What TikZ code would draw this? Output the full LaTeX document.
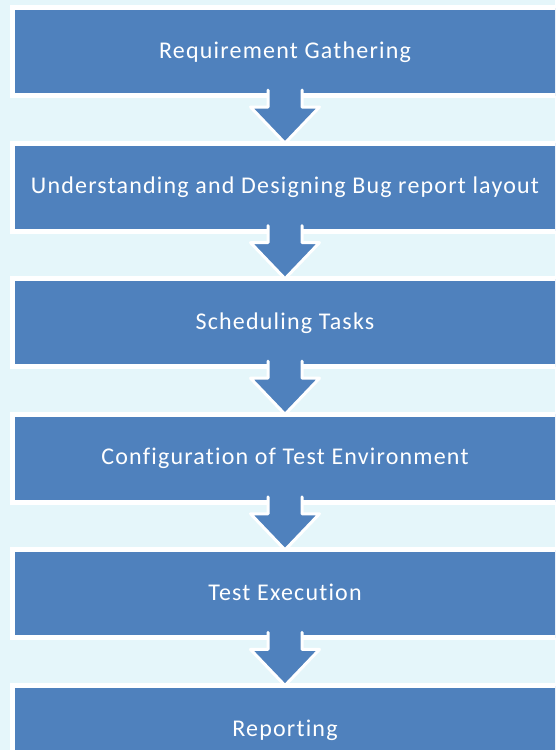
\documentclass[tikz,border=0pt]{standalone}
\usepackage{fontspec}
\setmainfont[Ligatures=NoCommon,LetterSpace=5]{Carlito}
\usetikzlibrary{calc}
\definecolor{bg}{HTML}{E5F6FA}
\definecolor{boxblue}{HTML}{4F81BD}
\newcommand{\flowarrow}[2]{%
  \fill[boxblue] ($(#1.south)+(-17,-8)$) -- ($(#1.south)+(-17,11.5)$) -- ($(#1.south)+(-34.5,11.5)$)
    -- (#2.north) -- ($(#1.south)+(34.5,11.5)$) -- ($(#1.south)+(17,11.5)$) -- ($(#1.south)+(17,-8)$) -- cycle;
  \draw[arrowline] ($(#1.south)+(-17,-5.5)$) -- ($(#1.south)+(-17,11.5)$) -- ($(#1.south)+(-34.5,11.5)$)
    -- (#2.north) -- ($(#1.south)+(34.5,11.5)$) -- ($(#1.south)+(17,11.5)$) -- ($(#1.south)+(17,-5.5)$);
}
\begin{document}
\begin{tikzpicture}[x=1pt,y=-1pt,
  box/.style={draw=white, line width=5pt, fill=boxblue, minimum width=545pt, minimum height=88pt,
    outer sep=0pt, inner sep=0pt, text=white, text height=20pt, text depth=7pt,
    font=\fontsize{24}{28}\selectfont},
  arrowline/.style={draw=white, line width=3pt, line join=round, line cap=round}]
\fill[bg] (0,0) rectangle (555,750);
\useasboundingbox (0,0) rectangle (555,750);
\clip (0,0) rectangle (555,750);
\node[box] (b1) at (285,51.5) {Requirement Gathering};
\node[box] (b2) at (285,187.1) {Understanding and Designing Bug report layout};
\node[box] (b3) at (285,322.7) {Scheduling Tasks};
\node[box] (b4) at (285,458.3) {Configuration of Test Environment};
\node[box] (b5) at (285,593.9) {Test Execution};
\node[box] (b6) at (285,729.5) {Reporting};
\flowarrow{b1}{b2}
\flowarrow{b2}{b3}
\flowarrow{b3}{b4}
\flowarrow{b4}{b5}
\flowarrow{b5}{b6}
\end{tikzpicture}
\end{document}
